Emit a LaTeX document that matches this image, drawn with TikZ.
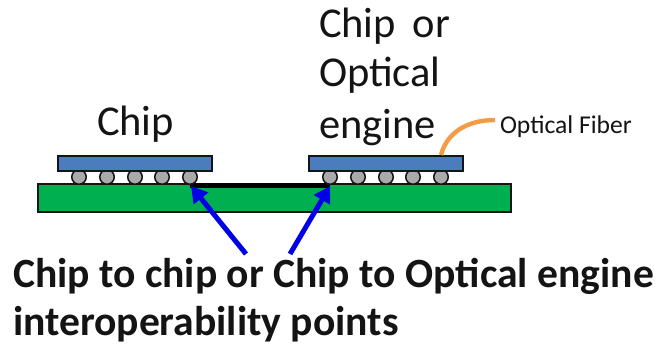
\documentclass[tikz,border=0pt]{standalone}
\usepackage{fontspec}
\setmainfont{Carlito}
\definecolor{chipblue}{RGB}{74,124,190}
\definecolor{boardgreen}{RGB}{0,176,80}
\definecolor{ballgray}{RGB}{170,170,170}
\definecolor{fiberorange}{RGB}{244,155,70}
\definecolor{arrowblue}{RGB}{0,0,230}
\definecolor{inkblack}{RGB}{20,20,20}
\usetikzlibrary{arrows.meta}
\tikzset{
 chipbox/.style={draw=inkblack,line width=2pt,fill=chipblue,minimum width=154pt,minimum height=15pt,inner sep=0pt,outer sep=0pt},
 boardbox/.style={draw=inkblack,line width=2pt,fill=boardgreen,minimum width=473pt,minimum height=28pt,inner sep=0pt,outer sep=0pt},
 ballnode/.style={circle,draw=inkblack,line width=1.5pt,fill=ballgray,minimum size=14.5pt,inner sep=0pt,outer sep=0pt},
 pointer/.style={draw=arrowblue,line width=5pt,-{Triangle[length=16pt,width=18pt]},shorten >=0pt},
 lab/.style={inner sep=0pt,outer sep=0pt,text=inkblack,font=\fontsize{42.5}{50}\selectfont,align=left},
 boldlab/.style={inner sep=0pt,outer sep=0pt,text=inkblack,font=\fontsize{41.6}{44}\selectfont\bfseries,anchor=base west},
}
\begin{document}
\begin{tikzpicture}[x=1pt,y=-1pt]
\useasboundingbox (0,0) rectangle (656,345);
\fill[white] (0,0) rectangle (656,345);
% board
\node[boardbox] (board) at (274.5,198) {};
% trace
\coordinate (traceL) at (190,185);
\coordinate (traceR) at (330,185);
\draw[line width=5pt,black] (traceL) -- (traceR);
% balls
\foreach \n/\x in {a/79,b/107,c/135,d/162,e/190,f/330,g/358,h/386,i/413,j/441}{
  \node[ballnode] (ball\n) at (\x,177) {};
}
% chips
\node[chipbox] (chipL) at (135,163.5) {};
\node[chipbox] (chipR) at (386,163.5) {};
% texts
\node[lab,anchor=base west] (chipLabel) at (97,135) {Chip};
\node[lab,anchor=base west] (eng1) at (319,38) {Chip\ \,or};
\node[lab,anchor=base west] (eng2) at (319,87) {Optical};
\node[lab,anchor=base west] (eng3) at (319,138) {engine};
\node[inner sep=0pt,outer sep=0pt,text=inkblack,font=\fontsize{25.6}{28}\selectfont,anchor=base west] (fiberLabel) at (500,133) {Optical Fiber};
% fiber
\coordinate (fiberEnd) at (495,120);
\draw[fiberorange,line width=4.4pt] (441,155) .. controls (447,132) and (468,120) .. (fiberEnd);
% arrows
\coordinate (srcL) at (246,254);
\coordinate (srcR) at (290,254);
\coordinate (tipL) at (191,186);
\coordinate (tipR) at (330,186);
\draw[pointer] (srcL) -- (tipL);
\draw[pointer] (srcR) -- (tipR);
% bold text
\node[boldlab] (bold1) at (13,287) {Chip to chip or Chip to Optical engine};
\node[boldlab] (bold2) at (13,335) {interoperability points};
\end{tikzpicture}
\end{document}
